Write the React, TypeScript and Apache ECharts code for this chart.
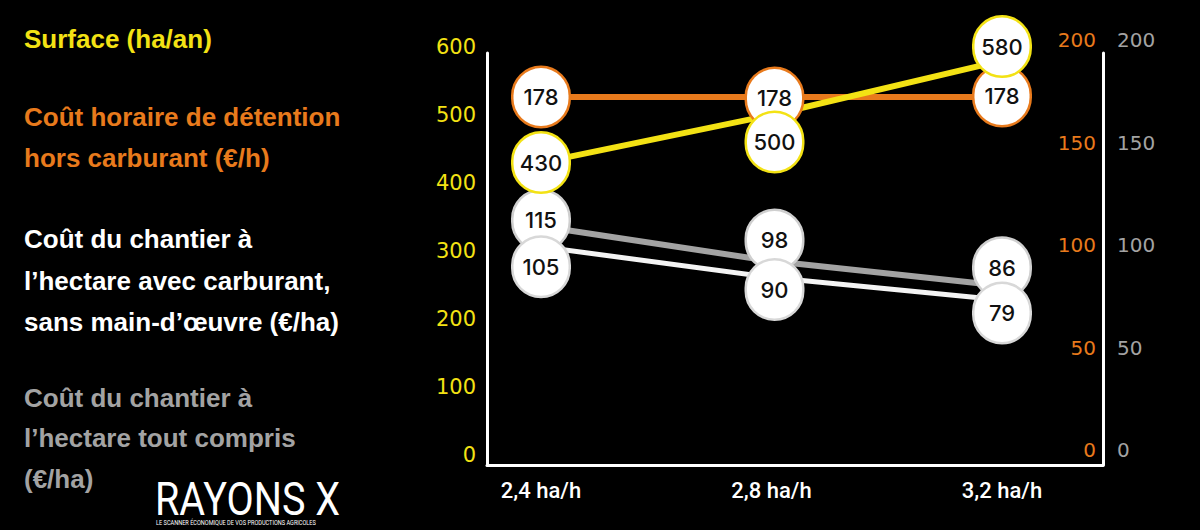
import React, { useEffect, useRef } from "react";
import * as echarts from "echarts";

const categories = ["2,4 ha/h", "2,8 ha/h", "3,2 ha/h"];
const surface = [430, 500, 580];
const coutHoraire = [178, 178, 178];
const coutCarburant = [105, 90, 79];
const coutTotal = [115, 98, 86];

const leftMax = 600;
const leftInterval = 100;
const rightMax = 200;
const rightInterval = 50;

// label offsets (styling only)
const labelDx = [0, 3, 0];
const surfaceDy = [0, 27, -14];
const horaireDy = [0, 1, -1];
const carburantDy = [20, 12, 13];
const totalDy = [-6, -21, -18];

const YELLOW = "#f3e214";
const ORANGE = "#e87a1c";
const GRAY = "#a3a3a3";
const WHITE = "#f4f4f4";

const X_MIN = -0.2343;
const X_MAX = 2.4382;

function circleLabel(border: string) {
  return {
    show: true,
    position: "inside",
    formatter: (p: any) => String(p.value[1]),
    color: "#111",
    fontSize: 22,
    fontWeight: 500,
    fontFamily: "Inter",
    backgroundColor: "#ffffff",
    borderColor: border,
    borderWidth: 2.5,
    borderRadius: 29,
    width: 55,
    height: 58,
    lineHeight: 58,
    align: "center",
    verticalAlign: "middle",
  };
}

function buildData(vals: number[], dy: number[]) {
  return vals.map((v, i) => ({
    value: [i, v],
    label: { offset: [labelDx[i], dy[i]] },
  }));
}

export default function App() {
  const ref = useRef<HTMLDivElement>(null);
  useEffect(() => {
    document.body.style.margin = "0";
    document.body.style.background = "#000";
    const chart = echarts.init(ref.current!, undefined, { renderer: "svg" });
    const hiddenX = (g: number) => ({
      gridIndex: g,
      type: "value",
      min: X_MIN,
      max: X_MAX,
      show: false,
    });
    const legendFont = (fill: string) => ({
      fill,
      fontSize: 26,
      fontWeight: "bold",
      fontFamily: "Liberation Sans",
    });
    const legendLines: [string, number, string][] = [
      ["Surface (ha/an)", 41, YELLOW],
      ["Coût horaire de détention", 119, ORANGE],
      ["hors carburant (€/h)", 160, ORANGE],
      ["Coût du chantier à", 241, "#ffffff"],
      ["l’hectare avec carburant,", 283, "#ffffff"],
      ["sans main-d’œuvre (€/ha)", 324, "#ffffff"],
      ["Coût du chantier à", 400, GRAY],
      ["l’hectare tout compris", 440, GRAY],
      ["(€/ha)", 481, GRAY],
    ];
    const option: any = {
      animation: false,
      backgroundColor: "#000000",
      grid: [
        { left: 487, right: 97, top: 47, bottom: 75 },
        { left: 487, right: 97, top: 52, bottom: 68 },
        { left: 487, right: 97, top: 53, bottom: 65 },
      ],
      xAxis: [
        hiddenX(0),
        hiddenX(1),
        {
          gridIndex: 2,
          type: "value",
          min: X_MIN,
          max: X_MAX,
          axisLine: { show: true, onZero: false, lineStyle: { color: "#fff", width: 3 } },
          axisTick: { show: false },
          splitLine: { show: false },
          axisLabel: {
            customValues: [0, 1, 2],
            formatter: (v: number) => categories[Math.round(v)] ?? "",
            color: "#fff",
            fontSize: 22,
            fontWeight: 500,
            fontFamily: "Roboto",
            margin: 14,
          },
        },
      ],
      yAxis: [
        {
          gridIndex: 0,
          type: "value",
          min: 0,
          max: leftMax,
          interval: leftInterval,
          position: "left",
          axisLine: { show: false },
          axisTick: { show: false },
          splitLine: { show: false },
          axisLabel: { color: YELLOW, fontSize: 21, fontFamily: "DejaVu Sans", margin: 11 },
        },
        {
          gridIndex: 1,
          type: "value",
          min: 0,
          max: rightMax,
          interval: rightInterval,
          position: "right",
          axisLine: { show: false },
          axisTick: { show: false },
          splitLine: { show: false },
          axisLabel: {
            inside: true,
            color: ORANGE,
            fontSize: 20,
            fontFamily: "DejaVu Sans",
            margin: 7,
            verticalAlign: "bottom",
            lineHeight: 24,
          },
        },
        {
          gridIndex: 1,
          type: "value",
          min: 0,
          max: rightMax,
          interval: rightInterval,
          position: "right",
          axisLine: { show: false },
          axisTick: { show: false },
          splitLine: { show: false },
          axisLabel: {
            color: GRAY,
            fontSize: 20,
            fontFamily: "DejaVu Sans",
            margin: 14,
            verticalAlign: "bottom",
            lineHeight: 24,
          },
        },
        {
          gridIndex: 2,
          type: "value",
          min: 0,
          max: 1,
          position: "left",
          axisLine: { show: true, onZero: false, lineStyle: { color: "#fff", width: 3 } },
          axisTick: { show: false },
          axisLabel: { show: false },
          splitLine: { show: false },
        },
        {
          gridIndex: 2,
          type: "value",
          min: 0,
          max: 1,
          position: "right",
          axisLine: { show: true, onZero: false, lineStyle: { color: "#fff", width: 3 } },
          axisTick: { show: false },
          axisLabel: { show: false },
          splitLine: { show: false },
        },
      ],
      series: [
        {
          name: "Coût du chantier à l’hectare tout compris (€/ha)",
          type: "line",
          xAxisIndex: 1,
          yAxisIndex: 2,
          data: buildData(coutTotal, totalDy),
          symbol: "circle",
          symbolSize: 4,
          itemStyle: { color: GRAY },
          lineStyle: { color: GRAY, width: 6 },
          label: circleLabel("#cfcfcf"),
          emphasis: { disabled: true },
        },
        {
          name: "Coût du chantier à l’hectare avec carburant, sans main-d’œuvre (€/ha)",
          type: "line",
          xAxisIndex: 1,
          yAxisIndex: 2,
          data: buildData(coutCarburant, carburantDy),
          symbol: "circle",
          symbolSize: 4,
          itemStyle: { color: WHITE },
          lineStyle: { color: WHITE, width: 5 },
          label: circleLabel("#d8d8d8"),
          emphasis: { disabled: true },
        },
        {
          name: "Coût horaire de détention hors carburant (€/h)",
          type: "line",
          xAxisIndex: 1,
          yAxisIndex: 1,
          data: buildData(coutHoraire, horaireDy),
          symbol: "circle",
          symbolSize: 4,
          itemStyle: { color: ORANGE },
          lineStyle: { color: ORANGE, width: 6 },
          label: circleLabel(ORANGE),
          emphasis: { disabled: true },
        },
        {
          name: "Surface (ha/an)",
          type: "line",
          xAxisIndex: 0,
          yAxisIndex: 0,
          data: buildData(surface, surfaceDy),
          symbol: "circle",
          symbolSize: 4,
          itemStyle: { color: YELLOW },
          lineStyle: { color: YELLOW, width: 6 },
          label: circleLabel(YELLOW),
          emphasis: { disabled: true },
        },
      ],
      graphic: [
        ...legendLines.map(([t, y, c]) => ({
          type: "text",
          left: 24,
          top: y - 15,
          style: { text: t, ...legendFont(c) },
        })),
        {
          type: "text",
          x: 155,
          y: 476,
          scaleX: 0.86,
          style: {
            text: "RAYONS X",
            fill: "#ffffff",
            fontSize: 46,
            fontFamily: "Roboto",
            fontWeight: "normal",
          },
        },
        {
          type: "text",
          x: 156,
          y: 519,
          scaleX: 0.8,
          style: {
            text: "LE SCANNER ÉCONOMIQUE DE VOS PRODUCTIONS AGRICOLES",
            fill: "#ffffff",
            fontSize: 7,
            fontFamily: "Roboto",
          },
        },
      ],
    };
    chart.setOption(option);
    return () => chart.dispose();
  }, []);
  return <div ref={ref} style={{ width: 1200, height: 530, background: "#000" }} />;
}
